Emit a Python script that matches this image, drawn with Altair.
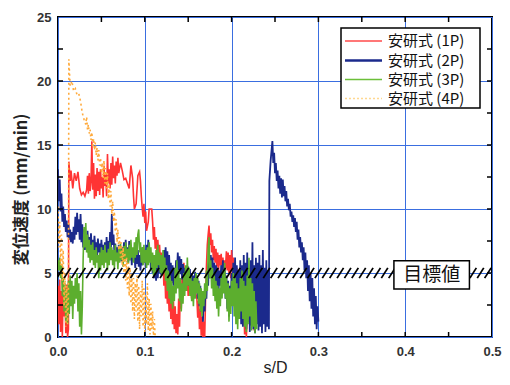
import altair as alt
import pandas as pd
import numpy as np

series_names = ["安研式 (1P)", "安研式 (2P)", "安研式 (3P)", "安研式 (4P)"]
series_colors = ["#ff3434", "#1b2a8c", "#5cae2e", "#ffaa3c"]
legend_colors = ["#ff4a4a", "#1b2a8c", "#6cbf3a", "#ffd890"]
x_ticks = [0.0, 0.1, 0.2, 0.3, 0.4, 0.5]
y_ticks = [0, 5, 10, 15, 20, 25]
x_minor = [0.05, 0.1, 0.15, 0.2, 0.25, 0.3, 0.35, 0.4, 0.45]
y_minor = [2.5, 5, 7.5, 10, 12.5, 15, 17.5, 20, 22.5]
band_low, band_high = 4.6, 5.4
target_box = [0.387, 0.474, 3.75, 5.95]
target_text = "目標値"

red_pts = [
(0.000,4.0),(0.001,1.0),(0.002,4.5),(0.003,0.4),(0.004,3.6),(0.005,0.0),(0.006,4.2),(0.007,1.6),(0.008,3.8),(0.009,0.3),(0.010,4.1),(0.011,0.0),(0.012,0.6),
(0.0125,13.7),(0.014,12.2),(0.015,13.0),(0.017,11.6),(0.019,12.8),(0.021,12.2),(0.023,12.9),(0.025,11.6),(0.027,11.1),(0.029,11.3),(0.031,11.0),(0.033,11.5),(0.034,12.6),(0.035,11.2),(0.036,12.8),(0.037,11.4),(0.038,12.1),(0.039,15.3),(0.040,11.5),(0.041,13.6),(0.042,10.8),(0.043,12.7),(0.044,11.0),(0.045,13.2),(0.046,11.4),(0.047,12.9),(0.048,11.1),(0.049,13.1),(0.050,11.6),(0.051,12.5),(0.052,10.9),(0.053,13.4),(0.054,11.8),(0.055,12.7),(0.056,11.0),(0.057,14.3),(0.058,12.0),(0.059,13.1),(0.060,11.6),(0.061,13.6),(0.062,11.9),(0.063,14.1),(0.064,12.4),(0.065,13.4),(0.066,12.0),(0.067,13.7),(0.068,12.6),(0.069,14.0),(0.070,12.8),(0.072,13.6),(0.074,13.0),(0.076,12.3),(0.078,12.4),(0.080,12.0),(0.082,11.6),(0.084,13.4),(0.085,12.9),(0.086,12.4),(0.087,11.0),(0.088,10.0),(0.090,10.4),(0.092,12.6),(0.094,12.9),(0.095,12.2),(0.096,11.0),(0.097,10.1),(0.098,9.4),(0.099,10.4),(0.100,8.9),(0.101,9.8),(0.102,8.3),(0.104,9.0),(0.105,10.0),(0.108,10.0),(0.109,9.0),(0.110,7.6),(0.111,8.6),(0.112,6.9),(0.113,7.8),(0.114,6.5),(0.115,7.6),(0.116,6.2),(0.117,7.2),(0.118,5.9),(0.119,6.6),(0.120,5.2),(0.121,6.0),(0.122,4.0),(0.123,5.2),(0.124,3.0),(0.125,4.4),(0.126,2.6),(0.127,4.0),(0.128,2.0),(0.129,3.6),(0.130,1.4),(0.131,3.2),(0.132,1.0),(0.133,2.8),(0.134,0.6),(0.135,2.4),(0.136,0.3),(0.137,1.8),(0.138,0.2),(0.139,3.0),(0.140,0.8),(0.141,4.0),(0.142,2.2),(0.143,5.0),(0.144,3.4),(0.145,5.8),(0.146,4.0),(0.147,5.2),(0.148,3.6),(0.149,4.8),(0.150,3.2),(0.152,4.6),(0.154,3.0),(0.156,4.2),(0.158,3.6),(0.160,3.0),(0.161,1.5),(0.162,2.8),(0.163,0.6),(0.164,2.2),(0.165,0.1),(0.166,1.6),(0.167,0.0),(0.168,1.2),(0.169,0.0),(0.170,3.0),(0.171,5.5),(0.172,7.2),(0.173,8.0),(0.174,8.7),(0.175,7.2),(0.176,8.1),(0.177,6.6),(0.178,7.6),(0.179,6.0),(0.180,7.1),(0.181,5.8),(0.182,6.9),(0.183,5.5),(0.184,6.6),(0.185,5.2),(0.186,6.4),(0.187,5.6),(0.188,6.5),(0.189,5.0),(0.190,6.2),(0.191,4.8),(0.192,6.0),(0.193,5.4),(0.194,6.7),(0.195,5.2),(0.196,6.6),(0.197,5.0),(0.198,6.4),(0.199,4.6),(0.200,6.8),(0.201,5.2),(0.202,6.2),(0.203,4.4),(0.204,5.8),(0.205,3.8),(0.206,5.4),(0.207,3.2),(0.208,5.0),(0.209,2.6),(0.210,4.4),(0.211,1.8),(0.212,3.6),(0.213,0.9),(0.214,2.8),(0.215,0.2),(0.216,2.0),(0.217,0.0),(0.218,1.5),(0.219,3.4),(0.220,1.2),(0.221,4.0),(0.222,2.0),(0.223,4.6),(0.224,1.0),(0.225,3.2),(0.226,0.5)
]

blue_pts = [
(0.000,13.1),(0.001,10.6),(0.002,12.3),(0.003,9.8),(0.004,11.2),(0.005,9.0),(0.006,10.2),(0.007,8.6),(0.008,9.6),(0.009,8.2),(0.010,9.1),(0.011,7.8),(0.012,8.8),(0.013,7.6),(0.014,8.4),(0.015,7.4),(0.016,8.2),(0.017,7.3),(0.018,8.6),(0.019,7.6),(0.020,9.4),(0.021,8.0),(0.022,9.7),(0.023,8.2),(0.024,9.2),(0.025,7.6),(0.026,9.6),(0.027,7.4),(0.028,8.8),(0.029,7.0),(0.030,8.4),(0.031,6.8),(0.032,8.0),(0.033,7.0),(0.034,8.3),(0.035,6.6),(0.036,7.8),(0.037,6.9),(0.038,8.1),(0.039,6.5),(0.040,7.6),(0.041,6.4),(0.042,7.9),(0.043,6.8),(0.044,7.4),(0.045,6.2),(0.046,7.7),(0.047,6.6),(0.048,7.3),(0.049,6.1),(0.050,7.6),(0.051,6.5),(0.052,7.2),(0.053,6.0),(0.054,7.4),(0.055,6.3),(0.056,7.8),(0.057,6.4),(0.058,7.5),(0.059,6.6),(0.060,8.2),(0.061,7.0),(0.062,9.6),(0.063,7.2),(0.064,8.0),(0.065,6.5),(0.066,7.3),(0.067,6.2),(0.068,7.0),(0.069,6.0),(0.070,7.2),(0.071,6.3),(0.072,6.9),(0.073,5.9),(0.074,7.0),(0.075,6.1),(0.076,7.4),(0.077,6.4),(0.078,7.6),(0.079,6.2),(0.080,7.0),(0.081,5.8),(0.082,7.5),(0.083,6.0),(0.084,7.1),(0.085,5.6),(0.086,6.8),(0.087,5.9),(0.088,6.5),(0.089,5.4),(0.090,6.6),(0.091,5.7),(0.092,6.8),(0.093,5.5),(0.094,6.4),(0.095,5.2),(0.096,6.6),(0.097,5.6),(0.098,7.0),(0.099,5.8),(0.100,6.8),(0.101,5.4),(0.102,7.2),(0.103,5.9),(0.104,7.6),(0.105,6.0),(0.106,6.8),(0.107,5.3),(0.108,6.4),(0.109,5.0),(0.110,6.2),(0.111,4.6),(0.112,6.0),(0.113,4.4),(0.114,5.8),(0.115,4.6),(0.116,6.2),(0.117,5.0),(0.118,6.0),(0.119,4.8),(0.120,6.4),(0.121,5.2),(0.122,6.8),(0.123,5.6),(0.124,7.0),(0.125,5.4),(0.126,6.7),(0.127,5.0),(0.128,6.4),(0.129,4.6),(0.130,5.8),(0.131,4.2),(0.132,5.6),(0.133,4.0),(0.134,5.4),(0.135,4.4),(0.136,6.0),(0.137,4.8),(0.138,6.6),(0.139,5.2),(0.140,6.3),(0.141,4.9),(0.142,6.1),(0.143,4.5),(0.144,5.7),(0.145,4.0),(0.146,5.4),(0.147,3.8),(0.148,5.2),(0.149,4.2),(0.150,5.5),(0.151,4.0),(0.152,5.3),(0.153,3.6),(0.154,5.0),(0.155,3.4),(0.156,4.8),(0.157,3.8),(0.158,5.1),(0.159,3.5),(0.160,4.8),(0.161,3.0),(0.162,4.4),(0.163,2.4),(0.164,4.0),(0.165,2.0),(0.166,3.6),(0.167,1.2),(0.168,3.2),(0.169,2.0),(0.170,4.0),(0.171,3.0),(0.172,5.0),(0.173,4.0),(0.174,6.0),(0.175,4.6),(0.176,6.4),(0.177,5.0),(0.178,6.2),(0.179,4.6),(0.180,5.8),(0.181,4.2),(0.182,5.6),(0.183,4.0),(0.184,5.4),(0.185,3.6),(0.186,5.2),(0.187,4.0),(0.188,5.6),(0.189,4.4),(0.190,6.0),(0.191,4.2),(0.192,5.4),(0.193,3.0),(0.194,4.8),(0.195,2.2),(0.196,4.4),(0.197,1.6),(0.198,4.0),(0.199,2.6),(0.200,5.0),(0.201,3.4),(0.202,5.8),(0.203,3.0),(0.204,6.2),(0.205,2.6),(0.206,5.6),(0.207,2.0),(0.208,5.2),(0.209,1.4),(0.210,6.0),(0.211,1.0),(0.212,5.6),(0.213,0.8),(0.214,6.4),(0.215,1.6),(0.216,5.8),(0.217,0.6),(0.218,6.6),(0.219,1.2),(0.220,5.4),(0.221,0.4),(0.222,6.0),(0.223,0.9),(0.224,7.4),(0.225,0.6),(0.226,5.6),(0.227,0.3),(0.228,6.2),(0.229,1.0),(0.230,5.8),(0.231,0.5),(0.232,6.4),(0.233,0.8),(0.234,5.6),(0.235,0.3),(0.236,6.8),(0.237,1.0),(0.238,5.4),(0.239,0.4),(0.240,6.0),(0.241,0.8),(0.242,5.2),(0.243,0.6),
(0.2435,12.2),(0.245,13.8),(0.247,15.3),(0.248,13.6),(0.249,14.4),(0.250,12.8),(0.251,13.6),(0.252,12.2),(0.253,13.0),(0.254,11.6),(0.255,12.6),(0.256,11.2),(0.257,12.4),(0.258,10.9),(0.259,12.3),(0.260,11.0),(0.261,11.8),(0.262,10.6),(0.263,11.4),(0.264,10.2),(0.265,10.8),(0.266,9.9),(0.267,10.4),(0.268,9.4),(0.269,9.8),(0.270,9.0),(0.271,9.5),(0.272,8.6),(0.273,9.3),(0.274,8.2),(0.275,9.0),(0.276,7.6),(0.277,8.4),(0.278,7.0),(0.279,7.8),(0.280,6.6),(0.281,7.4),(0.282,6.0),(0.283,7.0),(0.284,5.2),(0.285,6.6),(0.286,4.6),(0.287,6.0),(0.288,3.6),(0.289,5.6),(0.290,2.8),(0.291,5.0),(0.292,2.2),(0.293,4.6),(0.294,1.6),(0.295,3.8),(0.296,1.0),(0.297,3.2),(0.298,0.6),(0.299,2.4),(0.300,1.2)
]

green_pts = [
(0.000,6.0),(0.001,5.2),(0.002,6.2),(0.003,4.6),(0.004,5.6),(0.005,3.2),(0.006,4.6),(0.007,2.0),(0.008,4.2),(0.009,1.2),(0.010,3.6),(0.011,1.0),(0.012,4.4),(0.013,1.8),(0.014,4.8),(0.015,2.4),(0.016,4.4),(0.017,1.4),(0.018,4.0),(0.019,2.6),(0.020,4.6),(0.021,3.0),(0.022,5.0),(0.023,2.0),(0.024,4.2),(0.025,0.8),(0.026,3.6),(0.027,0.2),(0.028,2.4),(0.029,6.2),(0.030,8.6),(0.031,7.0),(0.032,8.9),(0.033,6.6),(0.034,8.0),(0.035,6.2),(0.036,7.6),(0.037,5.8),(0.038,7.2),(0.039,6.0),(0.040,7.4),(0.041,5.6),(0.042,6.8),(0.043,5.4),(0.044,7.0),(0.045,5.8),(0.046,6.4),(0.047,4.6),(0.048,6.6),(0.049,5.2),(0.050,7.0),(0.051,5.6),(0.052,6.8),(0.053,5.4),(0.054,7.2),(0.055,5.8),(0.056,6.6),(0.057,5.2),(0.058,6.9),(0.059,5.6),(0.060,7.4),(0.061,6.0),(0.062,7.0),(0.063,5.6),(0.064,6.8),(0.065,5.4),(0.066,7.2),(0.067,5.9),(0.068,6.6),(0.069,5.3),(0.070,7.0),(0.071,5.8),(0.072,7.3),(0.073,6.0),(0.074,6.8),(0.075,5.5),(0.076,7.1),(0.077,5.9),(0.078,7.4),(0.079,6.1),(0.080,6.9),(0.081,5.7),(0.082,7.2),(0.083,6.0),(0.084,7.6),(0.085,6.2),(0.086,7.0),(0.087,5.8),(0.088,7.4),(0.089,6.2),(0.090,7.8),(0.091,6.4),(0.092,8.0),(0.093,8.4),(0.094,6.6),(0.095,7.4),(0.096,5.8),(0.097,7.0),(0.098,5.6),(0.099,7.2),(0.100,5.8),(0.101,6.8),(0.102,5.4),(0.103,7.0),(0.104,5.6),(0.105,7.4),(0.106,5.8),(0.107,7.0),(0.108,5.2),(0.109,6.6),(0.110,4.8),(0.111,6.4),(0.112,5.0),(0.113,6.8),(0.114,5.4),(0.115,7.2),(0.116,5.6),(0.117,6.6),(0.118,5.0),(0.119,6.4),(0.120,4.8),(0.121,6.8),(0.122,5.2),(0.123,6.2),(0.124,4.4),(0.125,5.6),(0.126,3.6),(0.127,5.2),(0.128,3.0),(0.129,4.8),(0.130,2.6),(0.131,4.4),(0.132,2.2),(0.133,4.0),(0.134,2.8),(0.135,5.4),(0.136,3.4),(0.137,6.0),(0.138,3.8),(0.139,5.2),(0.140,2.8),(0.141,4.6),(0.142,2.0),(0.143,4.2),(0.144,2.6),(0.145,5.0),(0.146,3.2),(0.147,5.6),(0.148,3.6),(0.149,6.2),(0.150,4.0),(0.151,5.4),(0.152,3.2),(0.153,4.8),(0.154,2.8),(0.155,4.4),(0.156,2.4),(0.157,4.6),(0.158,3.0),(0.159,5.0),(0.160,3.4),(0.161,4.6),(0.162,2.6),(0.163,4.2),(0.164,2.0),(0.165,3.8),(0.166,1.6),(0.167,3.6),(0.168,2.4),(0.169,4.2),(0.170,3.0),(0.171,5.2),(0.172,3.6),(0.173,6.8),(0.174,7.8),(0.175,4.6),(0.176,6.0),(0.177,3.8),(0.178,5.4),(0.179,3.2),(0.180,4.8),(0.181,2.8),(0.182,4.4),(0.183,2.2),(0.184,4.0),(0.185,1.6),(0.186,3.8),(0.187,2.4),(0.188,4.6),(0.189,3.0),(0.190,5.2),(0.191,3.4),(0.192,5.8),(0.193,3.0),(0.194,4.6),(0.195,2.0),(0.196,4.2),(0.197,1.2),(0.198,3.8),(0.199,1.8),(0.200,4.4),(0.201,2.4),(0.202,5.0),(0.203,1.6),(0.204,4.6),(0.205,1.0),(0.206,4.2),(0.207,0.6),(0.208,3.8),(0.209,1.4),(0.210,4.6),(0.211,2.0),(0.212,5.2),(0.213,1.4),(0.214,4.4),(0.215,0.8),(0.216,4.0),(0.217,0.4),(0.218,4.8),(0.219,1.0),(0.220,6.2),(0.221,1.6),(0.222,4.6),(0.223,0.5),(0.224,4.2),(0.225,0.8),(0.226,3.6),(0.227,0.3),(0.228,2.8),(0.229,0.6)
]

orange_pts = [
(0.000,10.2),(0.001,7.0),(0.002,9.0),(0.003,5.6),(0.004,8.0),(0.005,4.4),(0.006,6.8),(0.007,2.4),(0.008,5.0),(0.009,0.8),(0.010,4.0),(0.011,1.0),(0.012,3.2),(0.0125,21.7),(0.014,19.6),(0.016,20.0),(0.018,19.2),(0.020,19.4),(0.022,18.9),(0.024,19.0),(0.026,18.4),(0.028,17.5),(0.030,17.0),(0.032,16.6),(0.033,17.2),(0.034,16.2),(0.035,16.6),(0.036,15.9),(0.037,16.2),(0.038,15.4),(0.039,16.0),(0.040,14.8),(0.041,15.5),(0.042,14.6),(0.043,15.2),(0.044,14.2),(0.045,14.8),(0.046,13.8),(0.047,14.6),(0.048,13.4),(0.049,14.0),(0.050,12.8),(0.051,13.6),(0.052,12.4),(0.053,13.8),(0.054,12.0),(0.055,13.2),(0.056,11.6),(0.057,12.8),(0.058,10.8),(0.059,12.0),(0.060,10.2),(0.061,11.4),(0.062,9.6),(0.063,10.6),(0.064,9.0),(0.065,9.8),(0.066,8.2),(0.067,9.2),(0.068,7.4),(0.069,8.4),(0.070,6.8),(0.071,7.8),(0.072,6.2),(0.073,7.4),(0.074,5.6),(0.075,7.0),(0.076,5.0),(0.077,6.6),(0.078,4.4),(0.079,6.2),(0.080,3.8),(0.081,5.8),(0.082,3.2),(0.083,5.4),(0.084,2.6),(0.085,5.0),(0.086,2.0),(0.087,4.6),(0.088,1.4),(0.089,4.2),(0.090,2.0),(0.091,4.8),(0.092,1.2),(0.093,4.0),(0.094,0.6),(0.095,3.6),(0.096,1.6),(0.097,4.4),(0.098,0.8),(0.099,3.8),(0.100,0.4),(0.101,3.4),(0.102,1.0),(0.103,4.2),(0.104,0.5),(0.105,3.0),(0.106,0.2),(0.107,2.6),(0.108,0.6),(0.109,2.0),(0.110,0.1),(0.111,1.4),(0.112,0.0)
]

W, H = 434, 320
FONT = "Noto Sans CJK JP"
LFONT = "Liberation Sans"
xs = alt.Scale(domain=[0, 0.5], nice=False, zero=False)
ys = alt.Scale(domain=[0, 25], nice=False)

XAX = alt.Axis(values=x_ticks, format=".1f", grid=True, gridColor="#3a6ee0", gridWidth=1,
               ticks=False, domain=False, labelFlush=False, labelFont=LFONT, labelFontSize=13,
               labelFontWeight="bold", labelColor="#333", labelPadding=8,
               title="s/D", titleFont=LFONT, titleFontSize=16,
               titleFontWeight="normal", titleColor="#222", titleY=22, titleBaseline="top")
YAX = alt.Axis(values=y_ticks, format="d", grid=True, gridColor="#3a6ee0", gridWidth=1,
               ticks=False, domain=False, labelFlush=False, labelFont=LFONT, labelFontSize=13,
               labelFontWeight="bold", labelColor="#333", labelPadding=7,
               title="変位速度 (mm/min)", titleFont=FONT, titleFontSize=16.5,
               titleFontWeight="bold", titleColor="#222", titleX=-37, titleY=172,
               titleBaseline="middle", titleAlign="center")


def X(field):
    return alt.X(field, scale=xs, axis=XAX)


def Y(field):
    return alt.Y(field, scale=ys, axis=YAX)


def series_layer(pts, color, width, dash=None):
    df = pd.DataFrame(pts, columns=["s", "v"])
    df["i"] = range(len(df))
    kw = dict(color=color, strokeWidth=width, clip=True)
    if dash:
        kw["strokeDash"] = dash
    return alt.Chart(df).mark_line(**kw).encode(x=X("s:Q"), y=Y("v:Q"), order="i:Q")


layers = [
    series_layer(red_pts, series_colors[0], 1.6),
    series_layer(blue_pts, series_colors[1], 1.8),
    series_layer(green_pts, series_colors[2], 1.6),
    series_layer(orange_pts, series_colors[3], 1.6, dash=[2, 3]),
]

# hatched target band (decorative pattern)
h0 = np.arange(-0.01, 0.5, 0.0085)
hatch_df = pd.DataFrame({"s": h0, "s1": h0 + 0.0075, "v": band_low, "v1": band_high})
layers.append(
    alt.Chart(hatch_df).mark_rule(color="black", strokeWidth=1.8, clip=True).encode(
        x=X("s:Q"), x2="s1:Q", y=Y("v:Q"), y2="v1:Q"
    )
)

# inward ticks on all four sides
xt_df = pd.DataFrame({"s": x_minor})
yt_df = pd.DataFrame({"v": y_minor})
layers += [
    alt.Chart(xt_df).mark_rule(color="black", strokeWidth=1.5).encode(
        x=X("s:Q"), y=alt.value(H), y2=alt.value(H - 5)),
    alt.Chart(xt_df).mark_rule(color="black", strokeWidth=1.5).encode(
        x=X("s:Q"), y=alt.value(0), y2=alt.value(5)),
    alt.Chart(yt_df).mark_rule(color="black", strokeWidth=1.5).encode(
        y=Y("v:Q"), x=alt.value(0), x2=alt.value(5)),
    alt.Chart(yt_df).mark_rule(color="black", strokeWidth=1.5).encode(
        y=Y("v:Q"), x=alt.value(W), x2=alt.value(W - 5)),
]

# target label box
box_df = pd.DataFrame({"s": [target_box[0]], "s1": [target_box[1]],
                       "v": [target_box[2]], "v1": [target_box[3]],
                       "sc": [(target_box[0] + target_box[1]) / 2],
                       "vc": [(target_box[2] + target_box[3]) / 2], "t": [target_text]})
layers.append(
    alt.Chart(box_df).mark_rect(fill="white", stroke="black", strokeWidth=1.5).encode(
        x=X("s:Q"), x2="s1:Q", y=Y("v:Q"), y2="v1:Q")
)
layers.append(
    alt.Chart(box_df).mark_text(font=FONT, fontSize=19, color="#111", baseline="middle").encode(
        x=X("sc:Q"), y=Y("vc:Q"), text="t:N")
)

# legend (drawn manually inside the plot)
one = pd.DataFrame({"a": [0]})
layers.append(
    alt.Chart(one).mark_rect(fill="white", stroke="black", strokeWidth=1.5).encode(
        x=alt.value(283), x2=alt.value(422), y=alt.value(11), y2=alt.value(91))
)
leg_rows = [24, 43.5, 62.5, 81.5]
leg_widths = [1.5, 2.5, 1.5, 1.5]
for k in range(4):
    kw = dict(color=legend_colors[k], strokeWidth=leg_widths[k])
    if k == 3:
        kw["strokeDash"] = [2, 2]
    layers.append(
        alt.Chart(one).mark_rule(**kw).encode(
            x=alt.value(287), x2=alt.value(324), y=alt.value(leg_rows[k]))
    )
    layers.append(
        alt.Chart(one).mark_text(text=series_names[k], font=FONT, fontSize=15, color="#111",
                                 align="left", baseline="middle").encode(
            x=alt.value(330), y=alt.value(leg_rows[k]))
    )

chart = alt.layer(*layers).properties(
    width=W, height=H,
    background="white",
    padding={"left": 50, "top": 9, "right": 10, "bottom": 40},
    autosize=alt.AutoSizeParams(type="none"),
).configure_view(stroke="black", strokeWidth=2)

chart.save("out.html", embed_options={"renderer": "svg", "actions": False})
